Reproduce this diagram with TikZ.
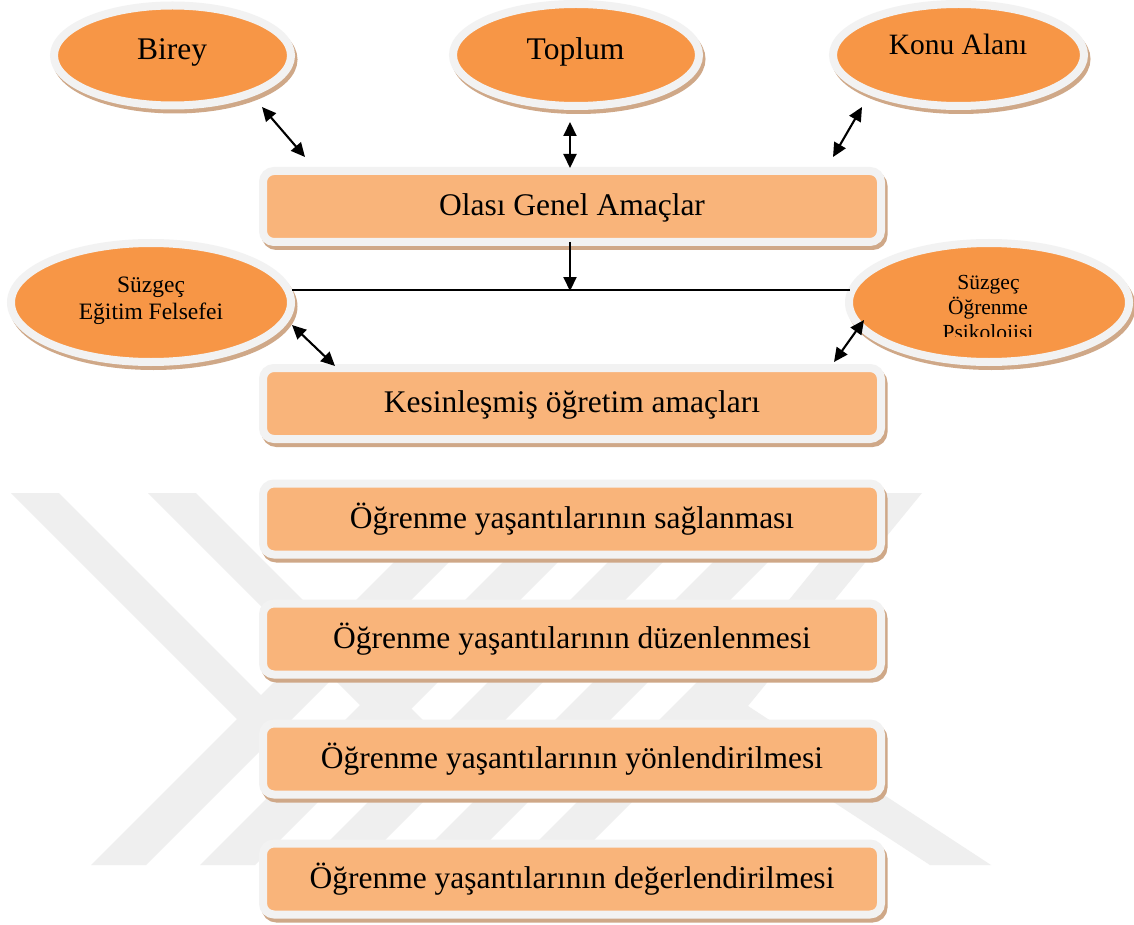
\documentclass[tikz,border=0pt]{standalone}
\usepackage{fontspec}
\setmainfont{Liberation Serif}
\usetikzlibrary{arrows.meta,shapes.geometric}
\definecolor{ellorange}{RGB}{247,150,70}
\definecolor{boxorange}{RGB}{249,180,122}
\definecolor{rimgray}{RGB}{242,242,242}
\definecolor{shadowtan}{RGB}{207,168,136}
\definecolor{wmgray}{RGB}{239,239,239}
\begin{document}
\begin{tikzpicture}[x=1pt,y=-1pt,
  shad/.style={preaction={draw=shadowtan,fill=shadowtan,line width=8pt,transform canvas={xshift=2.5pt,yshift=-4pt}}},
  ellnode/.style={ellipse,shad,fill=ellorange,draw=rimgray,line width=8pt,inner sep=0pt},
  boxnode/.style={rectangle,rounded corners=11pt,shad,fill=boxorange,draw=rimgray,line width=8pt,
     minimum width=618pt,minimum height=71pt,inner sep=0pt,text height=24pt,text depth=6pt,
     font=\fontsize{31.5}{36}\selectfont},
  big/.style={font=\fontsize{31.5}{36}\selectfont,anchor=base,inner sep=0pt},
  small/.style={font=\fontsize{23.5}{27}\selectfont,anchor=base,inner sep=0pt},
  smaller/.style={font=\fontsize{21.5}{25}\selectfont,anchor=base,inner sep=0pt},
  tw/.style={line width=2.1pt,{Triangle[length=14pt,width=13pt]}-{Triangle[length=14pt,width=13pt]}},
  ow/.style={line width=2.1pt,-{Triangle[length=14pt,width=13pt]}},
  wm/.style={fill=wmgray}
]
\useasboundingbox (0,0) rectangle (1134,925);
\fill[white] (0,0) rectangle (1134,925);

% watermark
\begin{scope}
\clip (0,493) rectangle (1134,865);
\foreach \b in {91,200,305,410} {
  \fill[wm] (\b,865) -- ({\b+55},865) -- ({\b+427},493) -- ({\b+372},493) -- cycle;
}
\fill[wm] (514,865) -- (569,865) -- (834,600) -- (779,600) -- cycle;
\fill[wm] (11,493) -- (59,493) -- (289,723) -- (241,723) -- cycle;
\fill[wm] (148,493) -- (196,493) -- (426,723) -- (378,723) -- cycle;
\fill[wm] (697,713) -- (876,493) -- (922,493) -- (748,706) -- (991,865) -- (930,865) -- cycle;
\end{scope}

% ellipses
\node[ellnode,minimum width=237pt,minimum height=100pt] (birey) at (172.5,55.5) {};
\node[ellnode,minimum width=246pt,minimum height=102pt] (toplum) at (576,55) {};
\node[ellnode,minimum width=251pt,minimum height=102pt] (konu) at (958.5,55) {};
\node[ellnode,minimum width=280pt,minimum height=119pt] (sleft) at (151,302.5) {};
\node[ellnode,minimum width=280pt,minimum height=119pt] (sright) at (989,302.5) {};

\node[big] (tbirey) at (172,60) {Birey};
\node[big] (ttoplum) at (575.5,60) {Toplum};
\node[big,font=\fontsize{29.5}{33}\selectfont] (tkonu) at (958,55) {Konu Alanı};
\node[small] (tsl1) at (151,292) {Süzgeç};
\node[small] (tsl2) at (151,319) {Eğitim Felsefei};
\node[smaller] (tsr1) at (988.5,289) {Süzgeç};
\node[smaller] (tsr2) at (988,314) {Öğrenme};
\begin{scope}
\clip (880,320) rectangle (1100,336);
\node[smaller] (tsr3) at (988,339.5) {Psikolojisi};
\end{scope}

% boxes
\node[boxnode] (olasi) at (572,206.5) {Olası Genel Amaçlar};
\node[boxnode] (kesin) at (572,403.5) {Kesinleşmiş öğretim amaçları};
\node[boxnode] (sagla) at (572,519) {Öğrenme yaşantılarının sağlanması};
\node[boxnode] (duzen) at (572,639) {Öğrenme yaşantılarının düzenlenmesi};
\node[boxnode] (yonle) at (572,759) {Öğrenme yaşantılarının yönlendirilmesi};
\node[boxnode] (deger) at (572,879) {Öğrenme yaşantılarının değerlendirilmesi};

% connector ends
\coordinate (a1s) at (262,107); \coordinate (a1e) at (305,157);
\coordinate (a2s) at (570,122); \coordinate (a2e) at (570,168);
\coordinate (a3s) at (862,107); \coordinate (a3e) at (833,157);
\coordinate (dn) at (570,242); \coordinate (hM) at (570,291);
\coordinate (hL) at (292,290); \coordinate (hR) at (850,290);
\coordinate (a4s) at (292,325); \coordinate (a4e) at (335,366);
\coordinate (a5s) at (864,320); \coordinate (a5e) at (834,362);

\draw[tw] (a1s) -- (a1e);
\draw[tw] (a2s) -- (a2e);
\draw[tw] (a3s) -- (a3e);
\draw[ow] (dn) -- (hM);
\draw[line width=1.7pt] (hL) -- (hR);
\draw[tw] (a4s) -- (a4e);
\draw[tw] (a5s) -- (a5e);
\end{tikzpicture}
\end{document}
